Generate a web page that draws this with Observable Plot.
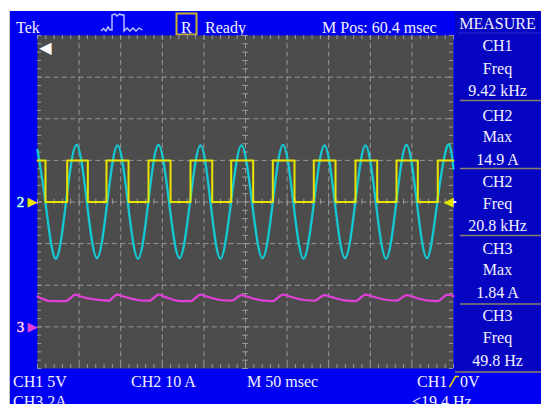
<!DOCTYPE html>
<html><head><meta charset="utf-8">
<script src="https://cdn.jsdelivr.net/npm/d3@7"></script>
<script src="https://cdn.jsdelivr.net/npm/@observablehq/plot@0.6"></script>
<style>
html,body{margin:0;padding:0;background:#fff;overflow:hidden;}
#wrap{position:relative;width:541px;height:404px;overflow:hidden;}
#wrap svg{position:absolute;left:0;top:0;}
</style></head><body><div id="wrap"></div>
<script>
// ---- channel settings ----
const channelNames = ["CH1", "CH2", "CH3"];
const unitsPerDiv = [5, 10, 2];          // V/div, A/div, A/div
const groundDiv = [0, 0, -3];            // ground marker position (divisions from centre)
const channelColors = ["#e8e400", "#14c8d2", "#e040d8"];

// ---- time base: 10 div x 50 ms ----
const timeDomain = [0, 500];
const gridTimes = [50, 100, 150, 200, 250, 300, 350, 400, 450];
const gridDivs = [-3, -2, -1, 0, 1, 2, 3];

// ---- CH1 (square wave, volts) ----
const ch1Time = [0, 9.6, 35.7, 60.5, 82.9, 109.4, 133.4, 159.9, 183.9, 210.0, 232.8, 259.2, 282.8, 308.9, 332.1, 358.2, 382.2, 408.3, 431.5, 457.1, 481.1, 500];
const ch1Volts = [5, 0, 5, 0, 5, 0, 5, 0, 5, 0, 5, 0, 5, 0, 5, 0, 5, 0, 5, 0, 5, 5];

// ---- CH2 (sine current, amps) ----
const ch2Time = [0, 9.5, 21.6, 34.3, 46.9, 59.3, 71.5, 83.9, 96.2, 108.5, 120.8, 133.2, 145.4, 158.1, 170.7, 183.3, 195.9, 207.9, 219.9, 232.6, 245.2, 257.8, 270.4, 282.8, 295.1, 307.4, 319.7, 332.3, 344.9, 357.3, 369.6, 382.0, 394.2, 406.6, 418.9, 431.3, 443.5, 455.9, 468.1, 480.5, 492.8, 500];
const ch2Amps = [12.5, 0, -13.6, 0, 13.7, 0, -13.5, 0, 13.6, 0, -13.6, 0, 13.7, 0, -13.5, 0, 13.6, 0, -13.6, 0, 13.6, 0, -13.5, 0, 13.7, 0, -13.6, 0, 13.6, 0, -13.5, 0, 13.6, 0, -13.6, 0, 13.7, 0, -13.5, 0, 13.6, 8.0];

// ---- CH3 (small current, amps) ----
const ch3Time = [0, 15.6, 33.7, 45.7, 51.7, 75.7, 85.3, 95.8, 103.4, 127.4, 134.6, 145.4, 153.8, 171.9, 183.9, 195.9, 203.1, 219.9, 233.2, 245.2, 253.6, 271.6, 282.4, 295.1, 302.9, 320.9, 332.9, 344.9, 353.4, 371.4, 382.2, 394.2, 402.6, 420.7, 431.5, 443.5, 451.9, 469.9, 480.8, 492.8, 500];
const ch3Amps = [1.46, 1.24, 1.24, 1.55, 1.46, 1.29, 1.26, 1.55, 1.46, 1.26, 1.26, 1.55, 1.43, 1.24, 1.24, 1.55, 1.46, 1.29, 1.26, 1.53, 1.43, 1.26, 1.24, 1.55, 1.46, 1.29, 1.26, 1.53, 1.43, 1.26, 1.24, 1.55, 1.46, 1.29, 1.26, 1.53, 1.43, 1.26, 1.24, 1.55, 1.48];

// ---- on-screen readouts ----
const headerLabels = ["Tek", "Ready", "M Pos: 60.4 msec"];
const measureTitle = "MEASURE";
const measureRows = [
  ["CH1", "Freq", "9.42 kHz"],
  ["CH2", "Max", "14.9 A"],
  ["CH2", "Freq", "20.8 kHz"],
  ["CH3", "Max", "1.84 A"],
  ["CH3", "Freq", "49.8 Hz"]
];
const footerLine1 = ["CH1 5V", "CH2 10 A", "M 50 msec", "CH1", "0V"];
const footerLine2 = ["CH3 2A", "<19.4 Hz"];

// ================= chrome (screen frame, readouts) =================
const W = 541, H = 404;
const BLUE = "#0000f2", PANEL = "#0505c2", TXT = "#f2f2ff", SEP = "#8a806c";
const chrome = d3.create("svg").attr("width", W).attr("height", H)
  .style("font-family", "'Liberation Serif','Times New Roman',serif").style("font-size", "16px");
chrome.append("rect").attr("width", W).attr("height", H).attr("fill", "#fff");
chrome.append("rect").attr("x", 10).attr("y", 11).attr("width", W - 10).attr("height", H - 11).attr("fill", BLUE);
chrome.append("line").attr("x1", 9.5).attr("x2", 9.5).attr("y1", 11).attr("y2", H).attr("stroke", "#c4c4c4");
chrome.append("rect").attr("x", 455).attr("y", 11).attr("width", W - 455).attr("height", 361).attr("fill", PANEL);
// header
const tx = (x, y, s, anchor) => chrome.append("text").attr("x", x).attr("y", y).attr("fill", TXT)
  .attr("text-anchor", anchor || "start").text(s);
tx(16, 33, headerLabels[0]);
chrome.append("polyline").attr("fill", "none").attr("stroke", "#c0c6ff").attr("stroke-width", 1.4)
  .attr("points", "101,31 103.5,28.5 106,31 108,27 110,30 112,30 112,15 115,14 117,16 119.5,14 122,15 124,15 124,31 127,28 130,31 133,28 136,31 139,28 142.5,30");
chrome.append("rect").attr("x", 176.5).attr("y", 13.5).attr("width", 20).attr("height", 21)
  .attr("fill", "none").attr("stroke", "#c8b42c").attr("stroke-width", 2);
tx(181, 33, "R");
tx(205, 33, headerLabels[1]);
tx(322, 33, headerLabels[2]);
// measure panel
tx(497.5, 29, measureTitle, "middle");
chrome.append("line").attr("x1", 458).attr("x2", W).attr("y1", 33).attr("y2", 33).attr("stroke", "#2a2ad6");
const boxTops = [33, 100.5, 168.5, 235.5, 304];
const rowBaselines = [[51, 74, 95.5], [120.5, 142, 164.5], [187, 208.5, 230.5], [253.5, 275, 297.5], [320.5, 343, 365.5]];
measureRows.forEach((row, i) => {
  if (i > 0) chrome.append("line").attr("x1", 460).attr("x2", W).attr("y1", boxTops[i]).attr("y2", boxTops[i]).attr("stroke", SEP).attr("stroke-width", 1.5);
  row.forEach((s, j) => tx(497.5, rowBaselines[i][j], s, "middle"));
});
chrome.append("line").attr("x1", 455).attr("x2", W).attr("y1", 372).attr("y2", 372).attr("stroke", SEP).attr("stroke-width", 1.5);
// footer
tx(13, 387, footerLine1[0]);
tx(131, 387, footerLine1[1]);
tx(247, 387, footerLine1[2]);
tx(417, 387, footerLine1[3]);
chrome.append("polyline").attr("fill", "none").attr("stroke", "#e8d000").attr("stroke-width", 1.6)
  .attr("points", "449.5,387 455.5,376.5 459,376.5");
tx(460, 387, footerLine1[4]);
tx(13, 407, footerLine2[0]);
tx(412, 407, footerLine2[1]);

document.getElementById("wrap").appendChild(chrome.node());

// ================= graticule + traces (Plot) =================
const toDiv = (v, ch) => v / unitsPerDiv[ch] + groundDiv[ch];
const ch1 = ch1Time.map((t, i) => ({t, y: toDiv(ch1Volts[i], 0)}));
const ch2 = ch2Time.map((t, i) => ({t, y: toDiv(ch2Amps[i], 1)}));
const ch3 = ch3Time.map((t, i) => ({t, y: toDiv(ch3Amps[i], 2)}));

const minorT = d3.range(0, 500.01, 10);
const minorD = d3.range(-4, 4.001, 0.2);
const GRID = "#a4a4a4";
const markers = [
  {label: "2", y: groundDiv[1], digit: channelColors[1], arrow: channelColors[0]},
  {label: "3", y: groundDiv[2], digit: channelColors[2], arrow: channelColors[2]}
];

const plot = Plot.plot({
  width: W, height: H,
  marginLeft: 37, marginRight: 88, marginTop: 35, marginBottom: 36,
  x: {domain: timeDomain, axis: null},
  y: {domain: [-4, 4], axis: null},
  style: {background: "transparent", overflow: "visible"},
  marks: [
    Plot.frame({fill: "#4c4c4c", stroke: "none"}),
    Plot.ruleX(gridTimes, {stroke: GRID, strokeWidth: 1, strokeOpacity: 0.85, strokeDasharray: "5,3.32"}),
    Plot.ruleY(gridDivs, {stroke: GRID, strokeWidth: 1, strokeOpacity: 0.85, strokeDasharray: "5,3.32"}),
    Plot.ruleX(minorT, {y1: -0.07, y2: 0.07, stroke: GRID, strokeOpacity: 0.85}),
    Plot.ruleX(minorT, {y1: 4, y2: 3.9, stroke: GRID, strokeOpacity: 0.85}),
    Plot.ruleX(minorT, {y1: -4, y2: -3.9, stroke: GRID, strokeOpacity: 0.85}),
    Plot.ruleY(minorD, {x1: 246.5, x2: 253.5, stroke: GRID, strokeOpacity: 0.85}),
    Plot.ruleY(minorD, {x1: 0, x2: 5, stroke: GRID, strokeOpacity: 0.85}),
    Plot.ruleY(minorD, {x1: 495, x2: 500, stroke: GRID, strokeOpacity: 0.85}),
    Plot.line(ch2, {x: "t", y: "y", stroke: channelColors[1], strokeWidth: 2.3, curve: "natural"}),
    Plot.line(ch1, {x: "t", y: "y", stroke: channelColors[0], strokeWidth: 2, curve: "step-after"}),
    Plot.line(ch3, {x: "t", y: "y", stroke: channelColors[2], strokeWidth: 2.2, curve: "monotone-x"}),
    // ground markers on the left (white digit with faint channel-coloured outline)
    Plot.text(markers, {x: () => timeDomain[0], y: "y", text: "label", fill: "#ffffff", stroke: "digit", strokeWidth: 0.9, strokeOpacity: 0.8, paintOrder: "stroke", dx: -17, fontSize: 15, fontFamily: "Liberation Serif"}),
    Plot.text(markers, {x: () => timeDomain[0], y: "y", text: () => "▶", fill: "arrow", dx: -5, fontSize: 13, fontFamily: "DejaVu Sans"}),
    // trigger level (CH1, 0 V) on the right
    Plot.ruleY([toDiv(0, 0)], {x1: timeDomain[1], x2: timeDomain[1] + 4, stroke: "#ffffff", strokeWidth: 2}),
    Plot.text([toDiv(0, 0)], {x: () => timeDomain[1], y: d => d, text: () => "◀", fill: channelColors[0], dx: -5, fontSize: 13, fontFamily: "DejaVu Sans"}),
    // trigger position off-screen left
    Plot.text([0], {x: () => timeDomain[0], y: () => 4, text: () => "◀", fill: "#ffffff", dx: 8, dy: 12, fontSize: 16, fontFamily: "DejaVu Sans"})
  ]
});
plot.style.position = "absolute"; plot.style.left = "0"; plot.style.top = "0";
document.getElementById("wrap").appendChild(plot);
</script></body></html>
